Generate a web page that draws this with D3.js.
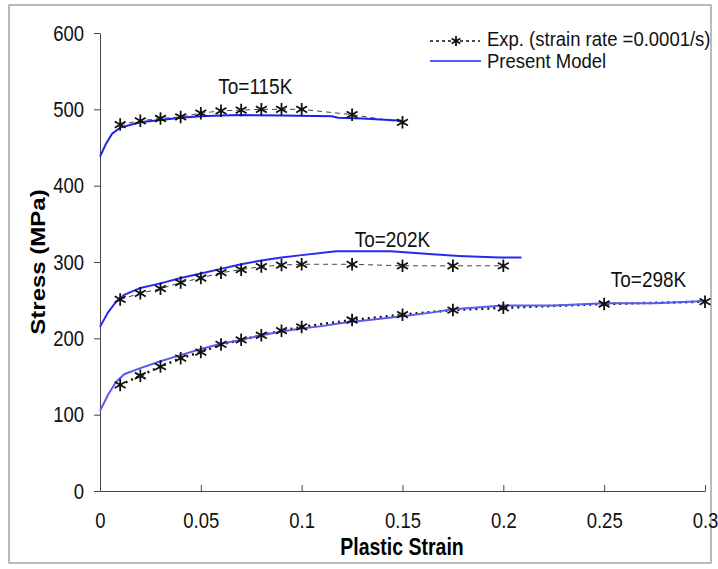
<!DOCTYPE html>
<html>
<head>
<meta charset="utf-8">
<script src="https://cdn.jsdelivr.net/npm/d3@7"></script>
<style>
  body { margin: 0; background: #fff; }
  svg { font-family: "Liberation Sans", Arial, sans-serif; }
</style>
</head>
<body>
<svg width="718" height="569"></svg>
<script>
// experimental strain points
var expStrain = [0.01, 0.02, 0.03, 0.04, 0.05, 0.06, 0.07, 0.08, 0.09, 0.1, 0.125, 0.15];
var expStrainLong = [0.01, 0.02, 0.03, 0.04, 0.05, 0.06, 0.07, 0.08, 0.09, 0.1, 0.125, 0.15, 0.175, 0.2];
var expStrain298 = [0.01, 0.02, 0.03, 0.04, 0.05, 0.06, 0.07, 0.08, 0.09, 0.1, 0.125, 0.15, 0.175, 0.2, 0.25, 0.3];

var exp115 = [480, 485, 488, 490, 495, 498, 499, 500, 500, 500, 493, 483];
var exp202 = [251, 259, 265, 273, 279, 286, 290, 294, 296, 297, 297, 295, 295, 295];
var exp298 = [139, 151, 163, 174, 182, 192, 198, 204, 210, 215, 224, 231, 237, 240, 245, 248];

// model curves
var modelStrain115 = [0, 0.003, 0.006, 0.01, 0.02, 0.03, 0.04, 0.05, 0.06, 0.07, 0.09, 0.115, 0.118, 0.13, 0.15];
var model115 = [438, 455, 468, 476, 483, 486, 489, 491, 492, 492.5, 492, 491, 489, 488, 485];

var modelStrain202 = [0, 0.004, 0.008, 0.012, 0.02, 0.03, 0.04, 0.05, 0.06, 0.07, 0.08, 0.09, 0.1, 0.117, 0.144, 0.165, 0.178, 0.198, 0.209];
var model202 = [215, 234, 248, 257, 266, 272, 279, 285, 291, 297, 302, 306, 309, 314, 314, 310, 308, 306, 306];

var modelStrain298 = [0, 0.004, 0.008, 0.012, 0.02, 0.03, 0.04, 0.05, 0.06, 0.07, 0.08, 0.09, 0.1, 0.11, 0.12, 0.15, 0.165, 0.175, 0.2, 0.225, 0.25, 0.275, 0.3];
var model298 = [105, 126, 143, 153, 161, 170, 178, 186, 193, 198, 204, 209, 213, 216, 220, 229, 234, 238, 243, 243, 246, 246, 249];

var xTicks = [0, 0.05, 0.1, 0.15, 0.2, 0.25, 0.3];
var yTicks = [0, 100, 200, 300, 400, 500, 600];

var svg = d3.select("svg");
var stretch = 1.2; // text in the source is drawn taller than it is wide

// outer frame
svg.append("rect")
  .attr("x", 9).attr("y", 5)
  .attr("width", 702).attr("height", 558)
  .attr("fill", "none")
  .attr("stroke", "#777")
  .attr("stroke-width", 1);

var x = d3.scaleLinear().domain([0, 0.3]).range([100, 705]);
var y = d3.scaleLinear().domain([0, 600]).range([491, 33]);

// y axis, ticks outward
var yAxis = svg.append("g")
  .attr("transform", "translate(100,0)")
  .call(d3.axisLeft(y).tickValues(yTicks).tickSize(6).tickPadding(10).tickSizeOuter(0));
yAxis.select(".domain").attr("stroke", "#444");
yAxis.selectAll(".tick line").attr("stroke", "#444");
yAxis.selectAll("text")
  .attr("font-size", 18.5).attr("fill", "#111")
  .attr("font-family", "Liberation Sans, Arial, sans-serif")
  .attr("transform", "scale(1," + stretch + ")");

// x axis, ticks point up into the plot
var xAxis = svg.append("g")
  .attr("transform", "translate(0,491)")
  .call(d3.axisBottom(x).tickValues(xTicks).tickSize(-6).tickPadding(18).tickSizeOuter(0)
    .tickFormat(function (d) { return d === 0 ? "0" : String(d); }));
xAxis.select(".domain").attr("stroke", "#444");
xAxis.selectAll(".tick line").attr("stroke", "#444");
xAxis.selectAll("text")
  .attr("font-size", 18.5).attr("fill", "#111")
  .attr("font-family", "Liberation Sans, Arial, sans-serif")
  .attr("transform", "scale(1," + stretch + ")");

svg.append("text")
  .attr("transform", "translate(45,262) scale(1," + stretch + ") rotate(-90)")
  .attr("text-anchor", "middle")
  .attr("font-size", 20)
  .attr("font-weight", "bold")
  .text("Stress (MPa)");

svg.append("text")
  .attr("transform", "translate(402,555) scale(1," + stretch + ")")
  .attr("text-anchor", "middle")
  .attr("font-size", 19.5)
  .attr("font-weight", "bold")
  .text("Plastic Strain");

var line = d3.line().x(function (d) { return x(d[0]); }).y(function (d) { return y(d[1]); });

function pairs(xs, ys) { return xs.map(function (v, i) { return [v, ys[i]]; }); }

var expSeries = [
  { data: pairs(expStrain, exp115), dash: "5,4", color: "#444", width: 1 },
  { data: pairs(expStrainLong, exp202), dash: "5,4", color: "#444", width: 1 },
  { data: pairs(expStrain298, exp298), dash: "2,4", color: "#111", width: 2.5 }
];
var modelSeries = [
  { data: pairs(modelStrain115, model115), color: "#2020ee" },
  { data: pairs(modelStrain202, model202), color: "#2a2aee" },
  { data: pairs(modelStrain298, model298), color: "#5a5af0" }
];

expSeries.forEach(function (s) {
  svg.append("path")
    .attr("d", line(s.data))
    .attr("fill", "none")
    .attr("stroke", s.color)
    .attr("stroke-width", s.width)
    .attr("stroke-dasharray", s.dash);
});

modelSeries.forEach(function (s) {
  svg.append("path")
    .attr("d", line(s.data))
    .attr("fill", "none")
    .attr("stroke", s.color)
    .attr("stroke-width", 2);
});

var star = d3.symbol().type(d3.symbolAsterisk).size(110);
expSeries.forEach(function (s) {
  svg.append("g").selectAll("path")
    .data(s.data)
    .enter()
    .append("path")
    .attr("d", star)
    .attr("transform", function (d) { return "translate(" + x(d[0]) + "," + y(d[1]) + ")"; })
    .attr("fill", "none")
    .attr("stroke", "#111")
    .attr("stroke-width", 1.8);
});

// temperature labels
var labels = [
  { t: "To=115K", sx: 0.077, sy: 520 },
  { t: "To=202K", sx: 0.145, sy: 319 },
  { t: "To=298K", sx: 0.272, sy: 267 }
];
svg.selectAll(".tlabel")
  .data(labels)
  .enter()
  .append("text")
  .attr("class", "tlabel")
  .attr("transform", function (d) { return "translate(" + x(d.sx) + "," + y(d.sy) + ") scale(1," + stretch + ")"; })
  .attr("text-anchor", "middle")
  .attr("font-size", 19)
  .attr("fill", "#111")
  .text(function (d) { return d.t; });

// legend
var legend = svg.append("g").attr("transform", "translate(430,41)");
legend.append("line")
  .attr("x1", 0).attr("x2", 50).attr("y1", 0).attr("y2", 0)
  .attr("stroke", "#111").attr("stroke-width", 1.5).attr("stroke-dasharray", "3,3");
legend.append("path")
  .attr("d", d3.symbol().type(d3.symbolAsterisk).size(70))
  .attr("transform", "translate(26,0)")
  .attr("fill", "none").attr("stroke", "#111").attr("stroke-width", 1.8);
legend.append("text")
  .attr("transform", "translate(57,5) scale(1,1.05)")
  .attr("font-size", 18.5).attr("fill", "#111")
  .text("Exp. (strain rate =0.0001/s)");
legend.append("line")
  .attr("x1", 0).attr("x2", 51).attr("y1", 20).attr("y2", 20)
  .attr("stroke", "#2020ee").attr("stroke-width", 1.5);
legend.append("text")
  .attr("transform", "translate(57,27) scale(1,1.05)")
  .attr("font-size", 18.5).attr("fill", "#111")
  .text("Present Model");
</script>
</body>
</html>
